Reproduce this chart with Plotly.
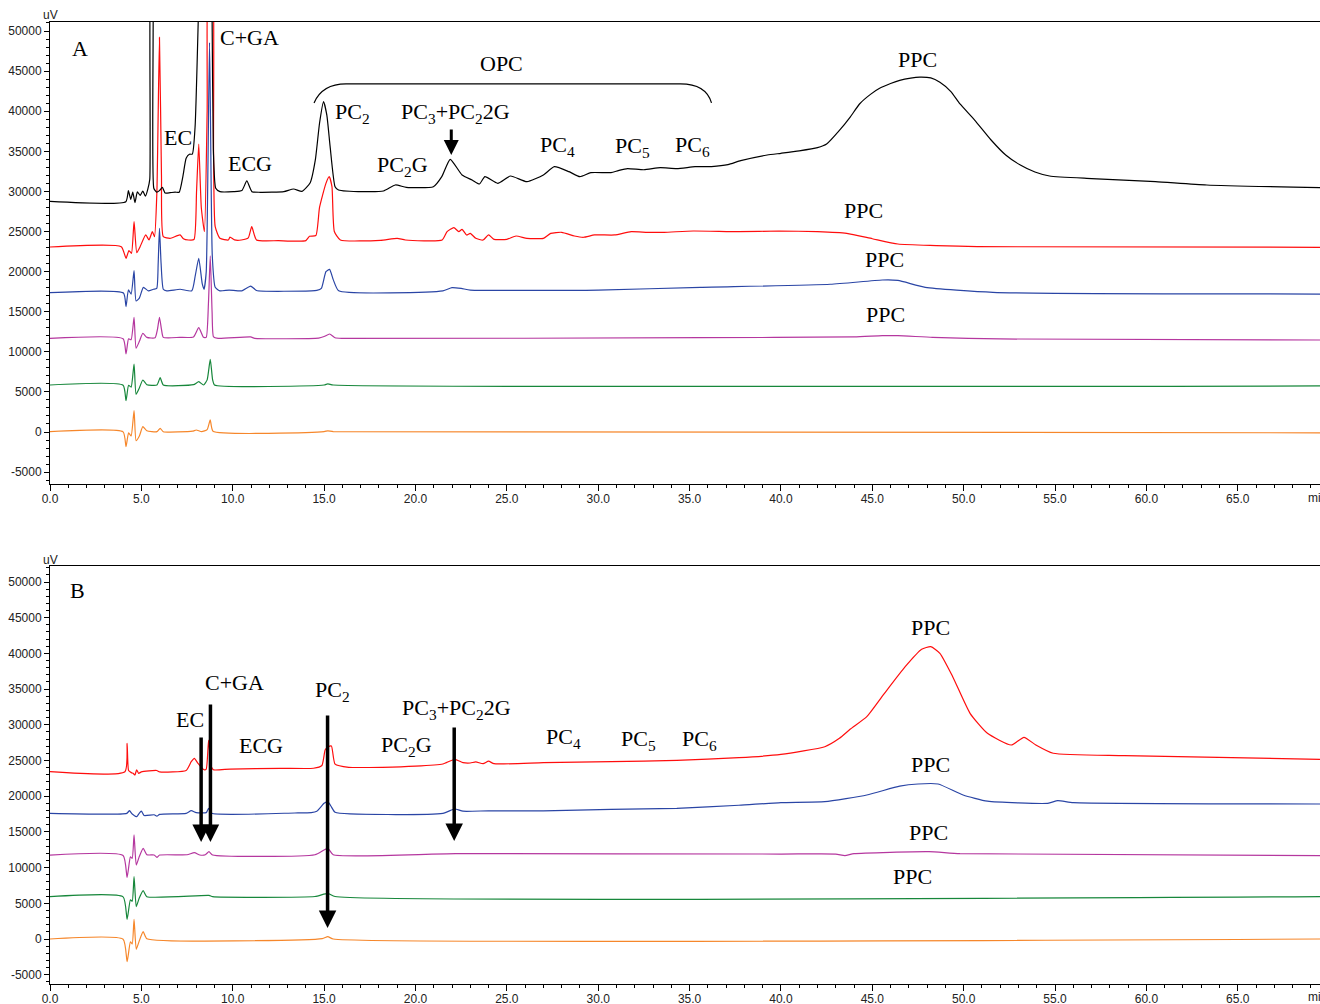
import plotly.graph_objects as go

# ---------------- data (time in min, signal in uV) ----------------
A_BLACK_T = [0, 4.15, 4.29, 4.42, 4.53, 4.65, 4.78, 4.93, 5.08, 5.22, 5.35, 5.46, 5.53, 5.6, 5.68, 5.84, 5.99,
             6.15, 6.3, 6.57, 6.85, 7.07, 7.27, 7.45, 7.63, 7.79, 7.94, 8.12, 8.2, 8.8, 8.87, 8.94, 9.07, 9.3,
             10.04, 10.5, 10.77, 11.05, 11.5, 12.8, 13.33, 13.79, 14.24, 14.52, 14.75, 14.97, 15.15, 15.33, 15.6,
             15.79, 17.15, 18.25, 18.9, 19.5, 20.98, 21.44, 21.9, 22.55, 23.1, 23.5, 23.8, 24.5, 25.2, 26.1, 27.0,
             27.6, 28.4, 29.0, 29.6, 30.7, 31.1, 31.6, 32.5, 33.4, 34.3, 35.3, 36.2, 37.1, 37.8, 39.25, 40.0,
             41.0, 42.0, 42.5, 43.2, 43.8, 44.3, 44.9, 45.4, 46.0, 46.5, 47.1, 47.6, 48.2, 48.7, 49.3, 49.8,
             50.6, 51.5, 52.3, 53.1, 53.9, 54.7, 57.0, 60.5, 63.3, 69.5]
A_BLACK_V = [28750, 28720, 30090, 29010, 29900, 28600, 29950, 29500, 30050, 29400, 30260, 31500, 60000, 60000,
             30400, 29900, 30100, 30510, 29800, 29840, 29900, 29900, 31840, 34130, 34630, 34650, 38070, 52000,
             60000, 60000, 52000, 35170, 30390, 29970, 29970, 30100, 31300, 29970, 29890, 29970, 30300, 30000,
             31090, 33920, 38500, 41190, 39500, 35580, 30590, 30180, 29970, 30050, 30800, 30500, 30590, 31840,
             34000, 32050, 31420, 30920, 31840, 31010, 31920, 31210, 32050, 33080, 32460, 31840, 32340, 32340,
             32590, 32840, 32700, 32960, 32840, 33080, 33100, 33330, 33830, 34540, 34750,
             35050, 35450, 35900, 37600, 39300, 40900, 42100, 42850, 43450, 43850, 44130, 44250, 44150, 43600,
             42450, 40900, 38900, 36410, 34540, 33290, 32420, 31920, 31600, 31210, 30800, 30460]

A_RED_T = [0, 3.9, 4.16, 4.32, 4.46, 4.6, 4.75, 4.93, 5.24, 5.42, 5.6, 5.72, 5.85, 5.99, 6.1, 6.2, 6.57, 7.12,
           7.3, 7.57, 7.88, 8.02, 8.14, 8.28, 8.45, 8.6, 8.7, 8.85, 8.95, 9.04, 9.3, 9.76, 9.85, 10.1, 10.47,
           10.85, 11.04, 11.3, 12.5, 14.0, 14.2, 14.55, 14.75, 15.1, 15.28, 15.43, 15.56, 15.89, 18.08, 19.0,
           19.45, 21.46, 21.73, 22.1, 22.37, 22.55, 22.8, 23.0, 23.3, 23.7, 24.0, 24.3, 25.0, 25.5, 26.1, 27.0,
           27.4, 28.0, 28.7, 29.2, 29.8, 30.9, 31.8, 32.7, 33.6, 35.2, 37.7, 39.9, 42.0, 43.6, 45.0, 46.4,
           48.5, 50.75, 69.5]
A_RED_V = [23070, 23110, 21660, 22610, 22280, 26230, 22360, 23110, 24570, 23940, 24980, 24360, 30000, 49200,
           32000, 24360, 24150, 24570, 24100, 23940, 24000, 30000, 35910, 28000, 25000, 40000, 60000, 60000,
           35000, 25600, 24150, 23940, 24300, 23950, 23940, 24200, 25600, 23940, 23860, 23860, 24400, 24500,
           28000, 31000, 31840, 30590, 25000, 23940, 23900, 24150, 23940, 23940, 24980, 25480, 24980, 25270,
           24560, 24770, 24150, 23940, 24570, 24020, 24020, 24440, 24150, 24150, 24770, 24900, 24440, 24280,
           24570, 24570, 24980, 24900, 24900, 25060, 24980, 25060, 24980, 24770, 24100, 23440, 23250, 23110,
           23030]

A_BLUE_T = [0, 4.02, 4.16, 4.29, 4.44, 4.6, 4.71, 4.89, 5.11, 5.38, 5.66, 5.84, 5.92, 5.99, 6.08, 6.2, 6.39,
            7.12, 7.76, 7.95, 8.14, 8.33, 8.43, 8.55, 8.73, 8.88, 9.04, 9.3, 9.8, 10.5, 10.98, 11.3, 14.3, 14.6,
            14.85, 15.1, 15.3, 15.5, 15.8, 21.5, 22.0, 22.5, 23.0, 30.0, 35.6, 42.7, 45.55, 46.4, 47.9, 51.6,
            69.5]
A_BLUE_V = [17370, 17330, 15630, 17710, 17200, 20110, 16340, 16700, 18040, 17600, 17800, 17900, 21000, 25400,
            21000, 17800, 17600, 17800, 17600, 19500, 21660, 18500, 17800, 20000, 48550, 22000, 18040, 17600,
            17700, 17600, 18200, 17650, 17600, 17650, 17900, 19990, 20280, 19000, 17600, 17600, 18000, 17900,
            17700, 17700, 18040, 18420, 18950, 18900, 18040, 17420, 17200]

A_MAG_T = [0, 4.0, 4.16, 4.3, 4.44, 4.6, 4.71, 4.89, 5.08, 5.3, 5.75, 5.88, 5.99, 6.1, 6.2, 7.1, 7.85, 8.14,
           8.4, 8.55, 8.67, 8.77, 8.87, 8.95, 9.2, 10.98, 11.2, 14.7, 15.0, 15.3, 15.6, 16.0, 35.6, 44.0, 45.55,
           46.4, 48.3, 52.0, 69.5]
A_MAG_V = [11680, 11620, 9730, 11620, 11500, 14300, 10440, 11300, 12310, 11800, 11750, 12800, 14300, 12800,
           11800, 11800, 11850, 13010, 11800, 11800, 16000, 21950, 15000, 11850, 11680, 11850, 11680, 11700,
           11900, 12220, 11750, 11680, 11760, 11850, 12010, 12010, 11800, 11600, 11470]

A_GRN_T = [0, 4.0, 4.16, 4.3, 4.44, 4.6, 4.71, 4.89, 5.08, 5.3, 5.85, 6.03, 6.2, 7.85, 8.14, 8.4, 8.6, 8.77,
           8.9, 9.0, 15.0, 15.2, 15.5, 69.5]
A_GRN_V = [5860, 5830, 3900, 5830, 5600, 8480, 4700, 5500, 6480, 5900, 5850, 6770, 5860, 5900, 6270, 5860,
           6500, 9070, 6500, 5860, 5860, 6000, 5860, 5740]

A_ORG_T = [0, 4.0, 4.16, 4.3, 4.44, 4.6, 4.71, 4.89, 5.08, 5.3, 5.85, 6.03, 6.2, 7.8, 8.0, 8.3, 8.6, 8.77,
           8.92, 15.0, 15.2, 15.5, 69.5]
A_ORG_V = [40, 20, -1830, -100, -500, 2660, -1080, -500, 660, 150, 40, 460, 40, 100, 250, 40, 300, 1500, 100,
           40, 150, 40, -100]

B_RED_T = [0, 4.1, 4.22, 4.3, 4.45, 4.55, 4.65, 4.74, 4.85, 5.0, 5.84, 6.0, 7.45, 7.73, 7.9, 8.1, 8.43, 8.55,
           8.68, 8.82, 8.94, 9.86, 12.6, 14.42, 14.88, 15.06, 15.2, 15.4, 15.6, 16.35, 18.2, 20.0, 21.5, 22.15,
           22.6, 23.0, 23.3, 23.7, 24.0, 24.3, 27.0, 30.7, 34.3, 37.7, 40.0, 42.4, 43.2, 43.8, 44.7, 45.6, 46.8,
           47.7, 48.2, 48.7, 49.4, 50.35, 51.3, 52.6, 53.3, 53.95, 54.9, 58.8, 69.5]
B_RED_V = [23430, 23430, 27400, 23600, 23300, 23200, 22970, 23700, 23200, 23400, 23600, 23400, 23600, 24830,
           25310, 24600, 23700, 23800, 27870, 24200, 23700, 23800, 23910, 23910, 24300, 26500, 26850, 27030,
           24500, 24050, 24050, 24200, 24510, 25170, 24700, 24650, 24800, 24560, 24900, 24550, 24700, 24830,
           25030, 25390, 25850, 26930, 28110, 29400, 31140, 34180, 38140, 40580, 40940, 40010, 36740, 31610,
           28810, 27170, 28250, 27170, 26010, 25670, 25170]

B_BLUE_T = [0, 4.2, 4.35, 4.5, 4.75, 4.88, 5.0, 5.15, 5.7, 5.85, 6.0, 7.45, 7.73, 8.0, 8.55, 8.68, 8.85, 13.4,
            14.3, 14.6, 15.0, 15.2, 15.4, 15.6, 21.5, 22.15, 22.6, 24.0, 27.0, 30.7, 34.3, 37.7, 40.0, 42.4,
            44.7, 46.5, 47.5, 48.6, 49.97, 51.3, 54.6, 55.15, 56.0, 69.5]
B_BLUE_V = [17600, 17600, 17970, 17500, 17130, 17600, 17900, 17300, 17400, 17200, 17450, 17600, 17970, 17700,
            17700, 18300, 17600, 17650, 17700, 17900, 19000, 19230, 18500, 17740, 17600, 18210, 17900, 17950,
            17950, 18160, 18300, 18730, 19100, 19230, 20170, 21400, 21710, 21710, 20170, 19300, 19000, 19370,
            19100, 18910]

B_MAG_T = [0, 4.0, 4.22, 4.4, 4.5, 4.6, 4.72, 4.88, 5.1, 5.3, 5.7, 5.85, 6.0, 7.5, 7.9, 8.2, 8.5, 8.7, 8.9,
           14.5, 15.2, 15.5, 22.2, 40.0, 43.0, 43.5, 44.0, 48.1, 49.8, 69.5]
B_MAG_V = [11760, 11700, 8630, 11500, 11300, 14570, 10360, 11500, 12700, 11800, 11760, 11440, 11760, 11800,
           12090, 11760, 11800, 12230, 11760, 11800, 12700, 11800, 11950, 11900, 11900, 11670, 11950, 12230,
           11950, 11670]

B_GRN_T = [0, 4.0, 4.22, 4.4, 4.5, 4.6, 4.72, 4.88, 5.1, 5.3, 8.7, 8.9, 14.5, 15.2, 15.6, 69.5]
B_GRN_V = [5930, 5900, 2760, 5500, 5300, 8730, 4530, 5700, 6770, 5930, 6100, 5930, 5950, 6400, 5950, 5930]

B_ORG_T = [0, 4.0, 4.22, 4.4, 4.5, 4.6, 4.72, 4.88, 5.1, 5.3, 14.9, 15.2, 15.5, 69.5]
B_ORG_V = [0, -30, -3180, -400, -700, 2760, -1440, -300, 1020, 50, 50, 330, 0, 0]

X_TICKS = [0, 5, 10, 15, 20, 25, 30, 35, 40, 45, 50, 55, 60, 65]
X_TICK_LABELS = ["0.0", "5.0", "10.0", "15.0", "20.0", "25.0", "30.0", "35.0", "40.0", "45.0", "50.0",
                 "55.0", "60.0", "65.0"]
Y_TICKS = [-5000, 0, 5000, 10000, 15000, 20000, 25000, 30000, 35000, 40000, 45000, 50000]
Y_TICK_LABELS = ["-5000", "0", "5000", "10000", "15000", "20000", "25000", "30000", "35000", "40000",
                 "45000", "50000"]

COLORS = {"black": "#000000", "red": "#ff0d0d", "blue": "#2a45a5", "mag": "#b5379f",
          "grn": "#17873b", "org": "#f6872b"}

# ---------------- figure ----------------
fig = go.Figure()

def add(t, v, color, ax):
    fig.add_trace(go.Scatter(x=t, y=v, mode="lines", xaxis="x" if ax == 1 else "x2",
                             yaxis="y" if ax == 1 else "y2",
                             line=dict(color=color, width=1.2, shape="spline", smoothing=0.5),
                             showlegend=False, hoverinfo="skip"))

add(A_ORG_T, A_ORG_V, COLORS["org"], 1)
add(A_GRN_T, A_GRN_V, COLORS["grn"], 1)
add(A_MAG_T, A_MAG_V, COLORS["mag"], 1)
add(A_BLUE_T, A_BLUE_V, COLORS["blue"], 1)
add(A_RED_T, A_RED_V, COLORS["red"], 1)
add(A_BLACK_T, A_BLACK_V, COLORS["black"], 1)

add(B_ORG_T, B_ORG_V, COLORS["org"], 2)
add(B_GRN_T, B_GRN_V, COLORS["grn"], 2)
add(B_MAG_T, B_MAG_V, COLORS["mag"], 2)
add(B_BLUE_T, B_BLUE_V, COLORS["blue"], 2)
add(B_RED_T, B_RED_V, COLORS["red"], 2)

tickfont = dict(family="Liberation Sans, Arial, sans-serif", size=12, color="#222222")

def xaxis_cfg(anchor):
    return dict(range=[0, 69.5], tickmode="array", tickvals=X_TICKS, ticktext=X_TICK_LABELS,
                ticks="outside", ticklen=6, tickcolor="#000", tickwidth=1, ticklabelstandoff=-2,
                minor=dict(tickmode="linear", tick0=0, dtick=1, ticks="outside", ticklen=3, tickcolor="#000"),
                showline=True, linecolor="#000", linewidth=1, mirror=True, automargin=False,
                showgrid=False, zeroline=False, tickfont=tickfont, anchor=anchor)

def yaxis_cfg(rng, dom, anchor):
    return dict(range=rng, domain=dom, tickmode="array", tickvals=Y_TICKS, ticktext=Y_TICK_LABELS,
                ticks="outside", ticklen=5, tickcolor="#000", tickwidth=1,
                minor=dict(tickmode="linear", tick0=0, dtick=1000, ticks="outside", ticklen=3, tickcolor="#000"),
                showline=True, linecolor="#000", linewidth=1, automargin=False,
                showgrid=False, zeroline=False, tickfont=tickfont, anchor=anchor)

W, H = 1320, 1004
T, Bm, L = 22, 1004 - 984, 50
ph = H - T - Bm

def pdom(top_px, bot_px):
    return [1 - (bot_px - T) / ph, 1 - (top_px - T) / ph]

fig.update_layout(
    width=W, height=H,
    margin=dict(l=L, r=0, t=T, b=Bm, autoexpand=False),
    paper_bgcolor="white", plot_bgcolor="white",
    xaxis=xaxis_cfg("y"),
    yaxis=yaxis_cfg([-6484, 51122], pdom(22, 484), "x"),
    xaxis2=xaxis_cfg("y2"),
    yaxis2=yaxis_cfg([-6303, 52241], pdom(566, 984), "x2"),
)

serif = "Liberation Serif, Times New Roman, serif"
ann = []

def label(text, t, v, ax, size=22):
    ann.append(dict(text=text, x=t, y=v, xref="x" if ax == 1 else "x2", yref="y" if ax == 1 else "y2",
                    showarrow=False, font=dict(family=serif, size=size, color="#000"),
                    xanchor="center", yanchor="middle"))

def arrow(t, v_tail, v_tip, ax, width=3.5):
    xr = "x" if ax == 1 else "x2"
    yr = "y" if ax == 1 else "y2"
    ann.append(dict(text="", x=t, y=v_tip, ax=t, ay=v_tail, xref=xr, yref=yr, axref=xr, ayref=yr,
                    showarrow=True, arrowhead=2, arrowsize=1.0, arrowwidth=width, arrowcolor="#000",
                    standoff=0, startstandoff=0))

# Panel A labels
label("A", 1.64, 47880, 1)
label("EC", 7.01, 36660, 1)
label("C+GA", 10.89, 49130, 1)
label("ECG", 10.95, 33540, 1)
label("PC<sub>2</sub>", 16.53, 39780, 1)
label("OPC", 24.69, 45890, 1)
label("PC<sub>3</sub>+PC<sub>2</sub>2G", 22.17, 39780, 1)
label("PC<sub>2</sub>G", 19.27, 33170, 1)
label("PC<sub>4</sub>", 27.75, 35660, 1)
label("PC<sub>5</sub>", 31.85, 35530, 1)
label("PC<sub>6</sub>", 35.14, 35660, 1)
label("PPC", 47.45, 46390, 1)
label("PPC", 44.5, 27680, 1)
label("PPC", 45.65, 21450, 1)
label("PPC", 45.7, 14710, 1)
arrow(21.96, 37910, 34540, 1, width=3)

# Panel B labels
label("B", 1.48, 48870, 2)
label("EC", 7.66, 30810, 2)
label("C+GA", 10.07, 35990, 2)
label("ECG", 11.55, 27170, 2)
label("PC<sub>2</sub>", 15.44, 34730, 2)
label("PC<sub>3</sub>+PC<sub>2</sub>2G", 22.22, 32210, 2)
label("PC<sub>2</sub>G", 19.5, 27030, 2)
label("PC<sub>4</sub>", 28.08, 28150, 2)
label("PC<sub>5</sub>", 32.18, 27870, 2)
label("PC<sub>6</sub>", 35.57, 27870, 2)
label("PPC", 48.17, 43560, 2)
label("PPC", 48.17, 24510, 2)
label("PPC", 48.06, 14850, 2)
label("PPC", 47.18, 8820, 2)
arrow(8.27, 28430, 13590, 2)
arrow(8.78, 33050, 13590, 2)
arrow(15.19, 31510, 1540, 2)
arrow(22.12, 29830, 13730, 2)

# unit labels
small = dict(family="Liberation Sans, Arial, sans-serif", size=12, color="#222222")
ann.append(dict(text="uV", xref="paper", yref="paper", x=0, y=pdom(22, 484)[1] + 7 / ph,
                xanchor="center", yanchor="middle", showarrow=False, font=small))
ann.append(dict(text="uV", xref="paper", yref="paper", x=0, y=pdom(566, 984)[1] + 6 / ph,
                xanchor="center", yanchor="middle", showarrow=False, font=small))
pw = W - L
ann.append(dict(text="min", xref="paper", yref="paper", x=(1306 - 50) / pw, y=pdom(22, 498)[0],
                xanchor="left", yanchor="middle", showarrow=False, font=small))
ann.append(dict(text="min", xref="paper", yref="paper", x=(1306 - 50) / pw, y=pdom(566, 997)[0],
                xanchor="left", yanchor="middle", showarrow=False, font=small))

fig.update_layout(annotations=ann)

# OPC bracket
fig.add_shape(type="path", xref="x", yref="y",
              path="M 14.45,41030 Q 14.9,43400 16.2,43400 L 34.5,43400 Q 35.9,43400 36.2,41030",
              line=dict(color="#000", width=1.2))

fig.write_html("out.html", config={"displayModeBar": False},
               post_script="document.body.style.margin='0';document.body.style.overflow='hidden';")
